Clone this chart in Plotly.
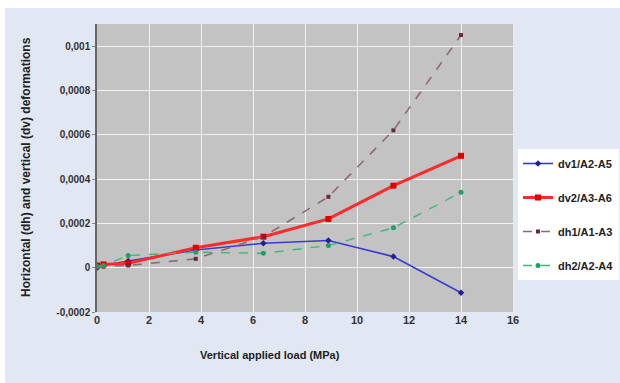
import plotly.graph_objects as go

load = [0, 0.25, 1.2, 3.8, 6.4, 8.9, 11.4, 14]
dv1 = [0, 0.00001, 0.00003, 0.00008, 0.00011, 0.000123, 0.00005, -0.000113]
dv2 = [0.00001, 0.000015, 0.00002, 0.00009, 0.00014, 0.00022, 0.00037, 0.000505]
dh1 = [0, 0.000005, 0.00001, 0.00004, 0.00014, 0.00032, 0.00062, 0.00105]
dh2 = [0.000005, 0.00001, 0.000055, 0.00007, 0.000065, 0.0001, 0.00018, 0.00034]

names = ["dv1/A2-A5", "dv2/A3-A6", "dh1/A1-A3", "dh2/A2-A4"]
ytickvals = [-0.0002, 0, 0.0002, 0.0004, 0.0006, 0.0008, 0.001]
yticktext = ["-0,0002", "0", "0,0002", "0,0004", "0,0006", "0,0008", "0,001"]
xtickvals = [0, 2, 4, 6, 8, 10, 12, 14, 16]

FONT = "Liberation Sans Narrow, Arial Narrow, Liberation Sans, Arial"

fig = go.Figure()
styles = [
    (dv1, dict(color="#3b3bd0", width=1.6), dict(symbol="diamond", size=5, color="#202090")),
    (dv2, dict(color="#ff2a2a", width=3), dict(symbol="square", size=6, color="#e00000")),
    (dh1, dict(color="#8c6a74", width=1.6, dash="dash"), dict(symbol="square", size=4, color="#6a2838")),
    (dh2, dict(color="#3cb878", width=1.4, dash="dash"), dict(symbol="circle", size=5, color="#20a060")),
]
for i, (ys, ln, mk) in enumerate(styles):
    fig.add_trace(go.Scatter(x=load, y=ys, mode="lines+markers", name=names[i],
                             line=ln, marker=mk, legendgroup=str(i)))

W = 416
H = 288
fig.update_layout(
    width=620, height=383,
    margin=dict(l=97, r=107, t=24, b=71, autoexpand=False),
    paper_bgcolor="#e1e7f3",
    plot_bgcolor="#c3c3c3",
    font=dict(family=FONT, size=10, color="#222222"),
    showlegend=True,
    legend=dict(x=(518 - 97) / W, y=(312 - 149) / H, xanchor="left", yanchor="top",
                bgcolor="#ffffff", borderwidth=0,
                font=dict(family=FONT, size=11, color="#222222", weight="bold"),
                tracegroupgap=15, itemwidth=30),
    xaxis=dict(range=[0, 16], tickvals=xtickvals, showgrid=True, gridcolor="#f2f2f2",
               gridwidth=1, zeroline=False, showline=False, ticks="",
               tickfont=dict(family=FONT, size=11, weight="bold", color="#333333")),
    yaxis=dict(range=[-0.0002, 0.0011], tickvals=ytickvals, ticktext=yticktext,
               showgrid=True, gridcolor="#f2f2f2", gridwidth=1, zeroline=False,
               showline=True, linecolor="#666666", linewidth=1.5, ticks="outside",
               ticklen=3, tickcolor="#888888",
               tickfont=dict(family=FONT, size=10, weight="bold", color="#333333")),
    annotations=[
        dict(text="Vertical applied load (MPa)", xref="paper", yref="paper",
             x=(270 - 97) / W, y=-(355 - 312) / H, xanchor="center", yanchor="middle",
             showarrow=False, font=dict(family=FONT, size=11, weight="bold", color="#222222")),
        dict(text="Horizontal (dh) and vertical (dv) deformations", xref="paper", yref="paper",
             x=-(97 - 26) / W, y=(312 - 167) / H, xanchor="center", yanchor="middle", textangle=-90,
             showarrow=False, font=dict(family=FONT, size=12, weight="bold", color="#222222")),
    ],
    shapes=[
        dict(type="rect", xref="paper", yref="paper", x0=-97 / W, x1=(620 - 97) / W,
             y0=1 + 16 / H, y1=1 + 24 / H, fillcolor="#ffffff", line=dict(width=0), layer="below"),
        dict(type="rect", xref="paper", yref="paper", x0=-97 / W, x1=-92 / W,
             y0=-71 / H, y1=1 + 24 / H, fillcolor="#ffffff", line=dict(width=0), layer="below"),
    ],
)

fig.write_html("out.html")
